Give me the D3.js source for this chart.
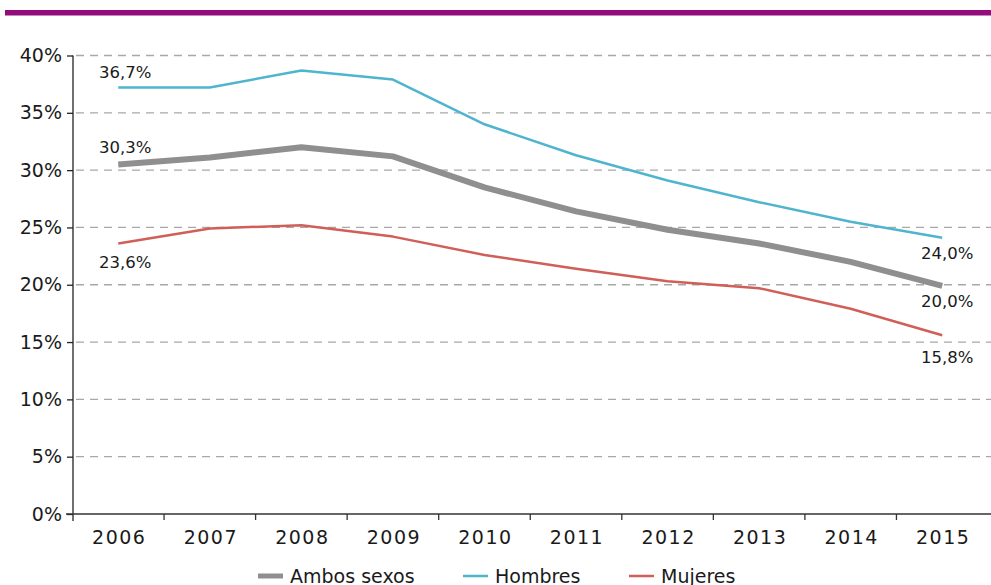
<!DOCTYPE html>
<html><head><meta charset="utf-8">
<script src="https://cdn.jsdelivr.net/npm/d3@7"></script>
<style>
html,body{margin:0;padding:0;background:#fff;}
text{font-family:"DejaVu Sans",sans-serif;fill:#1a1a1a;}
</style></head>
<body>
<svg id="c" width="991" height="585"></svg>
<script>
const years = ["2006","2007","2008","2009","2010","2011","2012","2013","2014","2015"];
const ambos = [30.5,31.1,32.0,31.2,28.5,26.4,24.8,23.6,22.0,19.9];
const hombres = [37.2,37.2,38.7,37.9,34.0,31.3,29.1,27.2,25.5,24.1];
const mujeres = [23.6,24.9,25.2,24.2,22.6,21.4,20.3,19.7,17.9,15.6];
const yTicks = [0,5,10,15,20,25,30,35,40];
const seriesNames = ["Ambos sexos","Hombres","Mujeres"];
const firstLabels = ["30,3%","36,7%","23,6%"];
const lastLabels = ["20,0%","24,0%","15,8%"];

const colors = ["#8f8f8f","#4fb5cf","#cf5f58"];
const widths = [6,2.5,2.5];
const seriesData = [ambos,hombres,mujeres];

const svg = d3.select("#c");
svg.append("rect").attr("x",5).attr("y",10).attr("width",986).attr("height",5.5).attr("fill","#920c7c");

const x = d3.scaleBand().domain(years).range([72.5,988]);
const y = d3.scaleLinear().domain([0,40]).range([514,55.5]);
const cx = d => x(d)+x.bandwidth()/2;

// gridlines
svg.append("g").selectAll("line").data(yTicks.filter(t=>t>0)).join("line")
  .attr("x1",76).attr("x2",991).attr("y1",d=>y(d)).attr("y2",d=>y(d))
  .attr("stroke","#a8a8a8").attr("stroke-width",1.3).attr("stroke-dasharray","8,6");

// y axis
const ya = svg.append("g").attr("transform","translate(73,0)")
  .call(d3.axisLeft(y).tickValues(yTicks).tickFormat(d=>d+"%").tickSize(6).tickPadding(5));
ya.select(".domain").attr("d","M0,55.5V521").attr("stroke","#222").attr("stroke-width",1.3);
ya.selectAll(".tick line").attr("stroke","#222").attr("stroke-width",1.3);
ya.selectAll(".tick text").attr("font-size",19).attr("fill","#1a1a1a").style("font-family","'DejaVu Sans',sans-serif");

// x axis
const xa = svg.append("g").attr("transform","translate(0,514)");
xa.append("line").attr("x1",66).attr("x2",991).attr("y1",0).attr("y2",0).attr("stroke","#333").attr("stroke-width",1.3);
xa.selectAll("line.t").data(years.slice(1)).join("line").attr("class","t")
  .attr("x1",d=>x(d)).attr("x2",d=>x(d)).attr("y1",0).attr("y2",6).attr("stroke","#333").attr("stroke-width",1.3);
xa.selectAll("text").data(years).join("text")
  .attr("x",d=>cx(d)+1).attr("y",30).attr("text-anchor","middle").attr("font-size",19)
  .attr("letter-spacing",1.5).text(d=>d);

// lines
const line = d3.line().x((d,i)=>cx(years[i])).y(d=>y(d));
seriesData.forEach((s,k)=>{
  svg.append("path").datum(s).attr("d",line).attr("fill","none")
    .attr("stroke",colors[k]).attr("stroke-width",widths[k]).attr("stroke-linejoin","round");
});

// data labels
const firstOff = [-16,-14,20];
const lastOff = [17,17,23];
seriesData.forEach((s,k)=>{
  svg.append("text").attr("class","dl").attr("x",cx(years[0])+7).attr("y",y(s[0])+firstOff[k]).attr("text-anchor","middle")
    .attr("font-size",16.5).attr("dominant-baseline","middle").text(firstLabels[k]);
  svg.append("text").attr("class","dl").attr("x",cx(years[9])+5).attr("y",y(s[9])+lastOff[k]).attr("text-anchor","middle")
    .attr("font-size",16.5).attr("dominant-baseline","middle").text(lastLabels[k]);
});

// legend
const legX = [258,463,629];
const lg = svg.append("g");
seriesNames.forEach((n,k)=>{
  lg.append("line").attr("x1",legX[k]).attr("x2",legX[k]+25).attr("y1",576).attr("y2",576)
    .attr("stroke",colors[k]).attr("stroke-width",k===0?5:2.5);
  lg.append("text").attr("x",legX[k]+32).attr("y",577).attr("dominant-baseline","middle")
    .attr("font-size",19).text(n);
});
</script>
</body></html>
